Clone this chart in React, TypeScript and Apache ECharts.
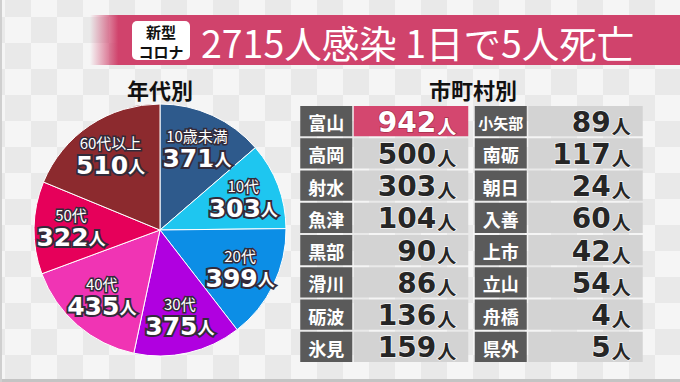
import React, { useEffect, useRef } from 'react';
import * as echarts from 'echarts';

const ageGroups = ['10歳未満', '10代', '20代', '30代', '40代', '50代', '60代以上'];
const ageCounts = [371, 303, 399, 375, 435, 322, 510];
const ageColors = ['#2e5a8c', '#1ec6f0', '#0c8ee6', '#b000e0', '#f034b4', '#e6005a', '#8c2a2e'];

const leftCities = ['富山', '高岡', '射水', '魚津', '黒部', '滑川', '砺波', '氷見'];
const leftCounts = [942, 500, 303, 104, 90, 86, 136, 159];
const rightCities = ['小矢部', '南砺', '朝日', '入善', '上市', '立山', '舟橋', '県外'];
const rightCounts = [89, 117, 24, 60, 42, 54, 4, 5];
const highlightCity = '富山';

const tagLines = ['新型', 'コロナ'];
const titleText = '2715人感染 1日で5人死亡';
const pieTitle = '年代別';
const tableTitle = '市町村別';
const unit = '人';

const JP = '"Noto Sans CJK JP", "Noto Sans CJK SC", sans-serif';
const NUM = '"DejaVu Sans", sans-serif';
const BANNER = '#d0436c';

export default function App() {
  const ref = useRef<HTMLDivElement>(null);
  useEffect(() => {
    document.body.style.margin = '0';
    const chart = echarts.init(ref.current!, null, { renderer: 'svg' });

    const bg: any[] = [];
    for (let r = 0; r < 16; r++) {
      for (let c = 0; c < 28; c++) {
        bg.push({
          type: 'rect',
          silent: true,
          z: -10,
          shape: { x: -21 + c * 26, y: -9 + r * 26, width: 26, height: 26 },
          style: { fill: (r + c) % 2 ? '#e9e9e9' : '#f5f5f5' },
        });
      }
    }

    const tableNames: string[] = [];
    const tableData: number[][] = [];
    leftCities.forEach((n, i) => {
      tableNames.push(n);
      tableData.push([0, i, leftCounts[i]]);
    });
    rightCities.forEach((n, i) => {
      tableNames.push(n);
      tableData.push([1, i, rightCounts[i]]);
    });

    const pieData = ageGroups.map((g, i) => ({
      name: g,
      value: ageCounts[i],
      itemStyle: { color: ageColors[i] },
    }));

    const outline = '#332b3a';

    chart.setOption({
      animation: false,
      backgroundColor: '#f0f0f0',
      graphic: [
        ...bg,
        { type: 'rect', silent: true, z: -5, shape: { x: 0, y: 379, width: 680, height: 3 }, style: { fill: '#c4c4c4' } },
        { type: 'rect', silent: true, z: -5, shape: { x: 0, y: 0, width: 2, height: 382 }, style: { fill: '#cfcfcf' } },
        {
          type: 'rect',
          z: 5,
          shape: { x: 90, y: 15, width: 590, height: 50 },
          style: {
            fill: new echarts.graphic.LinearGradient(0, 0, 1, 0, [
              { offset: 0, color: 'rgba(208,67,108,0)' },
              { offset: 0.048, color: BANNER },
              { offset: 1, color: BANNER },
            ]),
          },
        },
        {
          type: 'rect',
          z: 6,
          shape: { x: 132, y: 21, width: 58, height: 39, r: 5 },
          style: { fill: '#ffffff' },
        },
        ...tagLines.map((t, i) => ({
          type: 'text',
          z: 7,
          style: {
            text: t,
            x: 161,
            y: 31 + i * 20,
            align: 'center',
            verticalAlign: 'middle',
            fill: '#111',
            fontSize: 15,
            lineHeight: 17,
            fontWeight: 'bold',
            fontFamily: JP,
          },
        })),
        {
          type: 'text',
          z: 7,
          style: {
            text: titleText,
            x: 201,
            y: 41,
            align: 'left',
            verticalAlign: 'middle',
            fill: '#ffffff',
            fontSize: 37.5,
            fontFamily: JP,
          },
        },
        {
          type: 'text',
          z: 7,
          style: {
            text: pieTitle,
            x: 160,
            y: 89,
            align: 'center',
            verticalAlign: 'middle',
            fill: '#111',
            fontSize: 22,
            fontWeight: 'bold',
            fontFamily: JP,
          },
        },
        {
          type: 'text',
          z: 7,
          style: {
            text: tableTitle,
            x: 473,
            y: 89,
            align: 'center',
            verticalAlign: 'middle',
            fill: '#111',
            fontSize: 22,
            fontWeight: 'bold',
            fontFamily: JP,
          },
        },
      ],
      grid: { left: 297, right: 34, top: 105, bottom: 19 },
      xAxis: { type: 'category', data: ['left', 'right'], show: false },
      yAxis: {
        type: 'category',
        data: leftCities.map((_, i) => String(i)),
        inverse: true,
        show: false,
      },
      series: [
        {
          type: 'pie',
          center: [160, 230],
          radius: [0, 126],
          startAngle: 90,
          clockwise: true,
          silent: true,
          label: { show: false },
          labelLine: { show: false },
          itemStyle: { borderColor: '#ffffff', borderWidth: 1 },
          data: pieData,
        },
        {
          type: 'pie',
          center: [160, 230],
          radius: [46, 126],
          startAngle: 90,
          clockwise: true,
          silent: true,
          avoidLabelOverlap: false,
          itemStyle: { color: 'rgba(0,0,0,0)' },
          labelLine: { show: false },
          label: {
            show: true,
            position: 'inside',
            formatter: (p: any) => `{a|${p.name}}\n{n|${p.value}}{u|${unit}}`,
            rich: {
              a: {
                fontSize: 15,
                fontFamily: JP,
                color: '#fff',
                textBorderColor: outline,
                textBorderWidth: 3,
                lineHeight: 19,
                align: 'center',
              },
              n: {
                fontSize: 25,
                fontWeight: 'bold',
                fontFamily: NUM,
                color: '#fff',
                textBorderColor: outline,
                textBorderWidth: 4,
                lineHeight: 27,
              },
              u: {
                fontSize: 17,
                fontWeight: 'bold',
                fontFamily: JP,
                color: '#fff',
                textBorderColor: outline,
                textBorderWidth: 4,
                lineHeight: 27,
              },
            },
          },
          data: ageGroups.map((g, i) => ({ name: g, value: ageCounts[i] })),
        },
        {
          type: 'custom',
          silent: true,
          data: tableData,
          renderItem: (params: any, api: any) => {
            const col = api.value(0);
            const row = api.value(1);
            const count = api.value(2);
            const name = tableNames[params.dataIndex];
            const pt = api.coord([col, row]);
            const size = api.size([1, 1]);
            const bh = size[1];
            const x0 = pt[0] - 84;
            const top = pt[1] - bh / 2 + 1;
            const h = bh - 2;
            const hl = name === highlightCity;
            const ink = hl ? '#ffffff' : '#262626';
            const edge = hl ? '#a8304c' : '#f6f6f6';
            return {
              type: 'group',
              children: [
                { type: 'rect', shape: { x: x0, y: top, width: 52, height: h }, style: { fill: '#5a5a5a' } },
                {
                  type: 'rect',
                  shape: { x: x0 + 53.5, y: top, width: 114.5, height: h },
                  style: { fill: hl ? '#d4476f' : '#d3d3d3' },
                },
                {
                  type: 'text',
                  style: {
                    text: name,
                    x: x0 + 26,
                    y: pt[1] + 1,
                    align: 'center',
                    verticalAlign: 'middle',
                    fill: '#ffffff',
                    fontSize: name.length > 2 ? 15 : 18,
                    fontWeight: 'bold',
                    fontFamily: JP,
                  },
                },
                {
                  type: 'text',
                  style: {
                    text: String(count),
                    x: x0 + 136,
                    y: pt[1] + 1,
                    align: 'right',
                    verticalAlign: 'middle',
                    fill: ink,
                    stroke: edge,
                    lineWidth: 1.5,
                    fontSize: 28,
                    fontWeight: 'bold',
                    fontFamily: NUM,
                  },
                },
                {
                  type: 'text',
                  style: {
                    text: unit,
                    x: x0 + 137,
                    y: pt[1] + 4,
                    align: 'left',
                    verticalAlign: 'middle',
                    fill: ink,
                    stroke: edge,
                    lineWidth: 1.5,
                    fontSize: 19,
                    fontWeight: 'bold',
                    fontFamily: JP,
                  },
                },
              ],
            };
          },
        },
      ],
    });
    return () => chart.dispose();
  }, []);
  return <div ref={ref} style={{ width: 680, height: 382 }} />;
}
